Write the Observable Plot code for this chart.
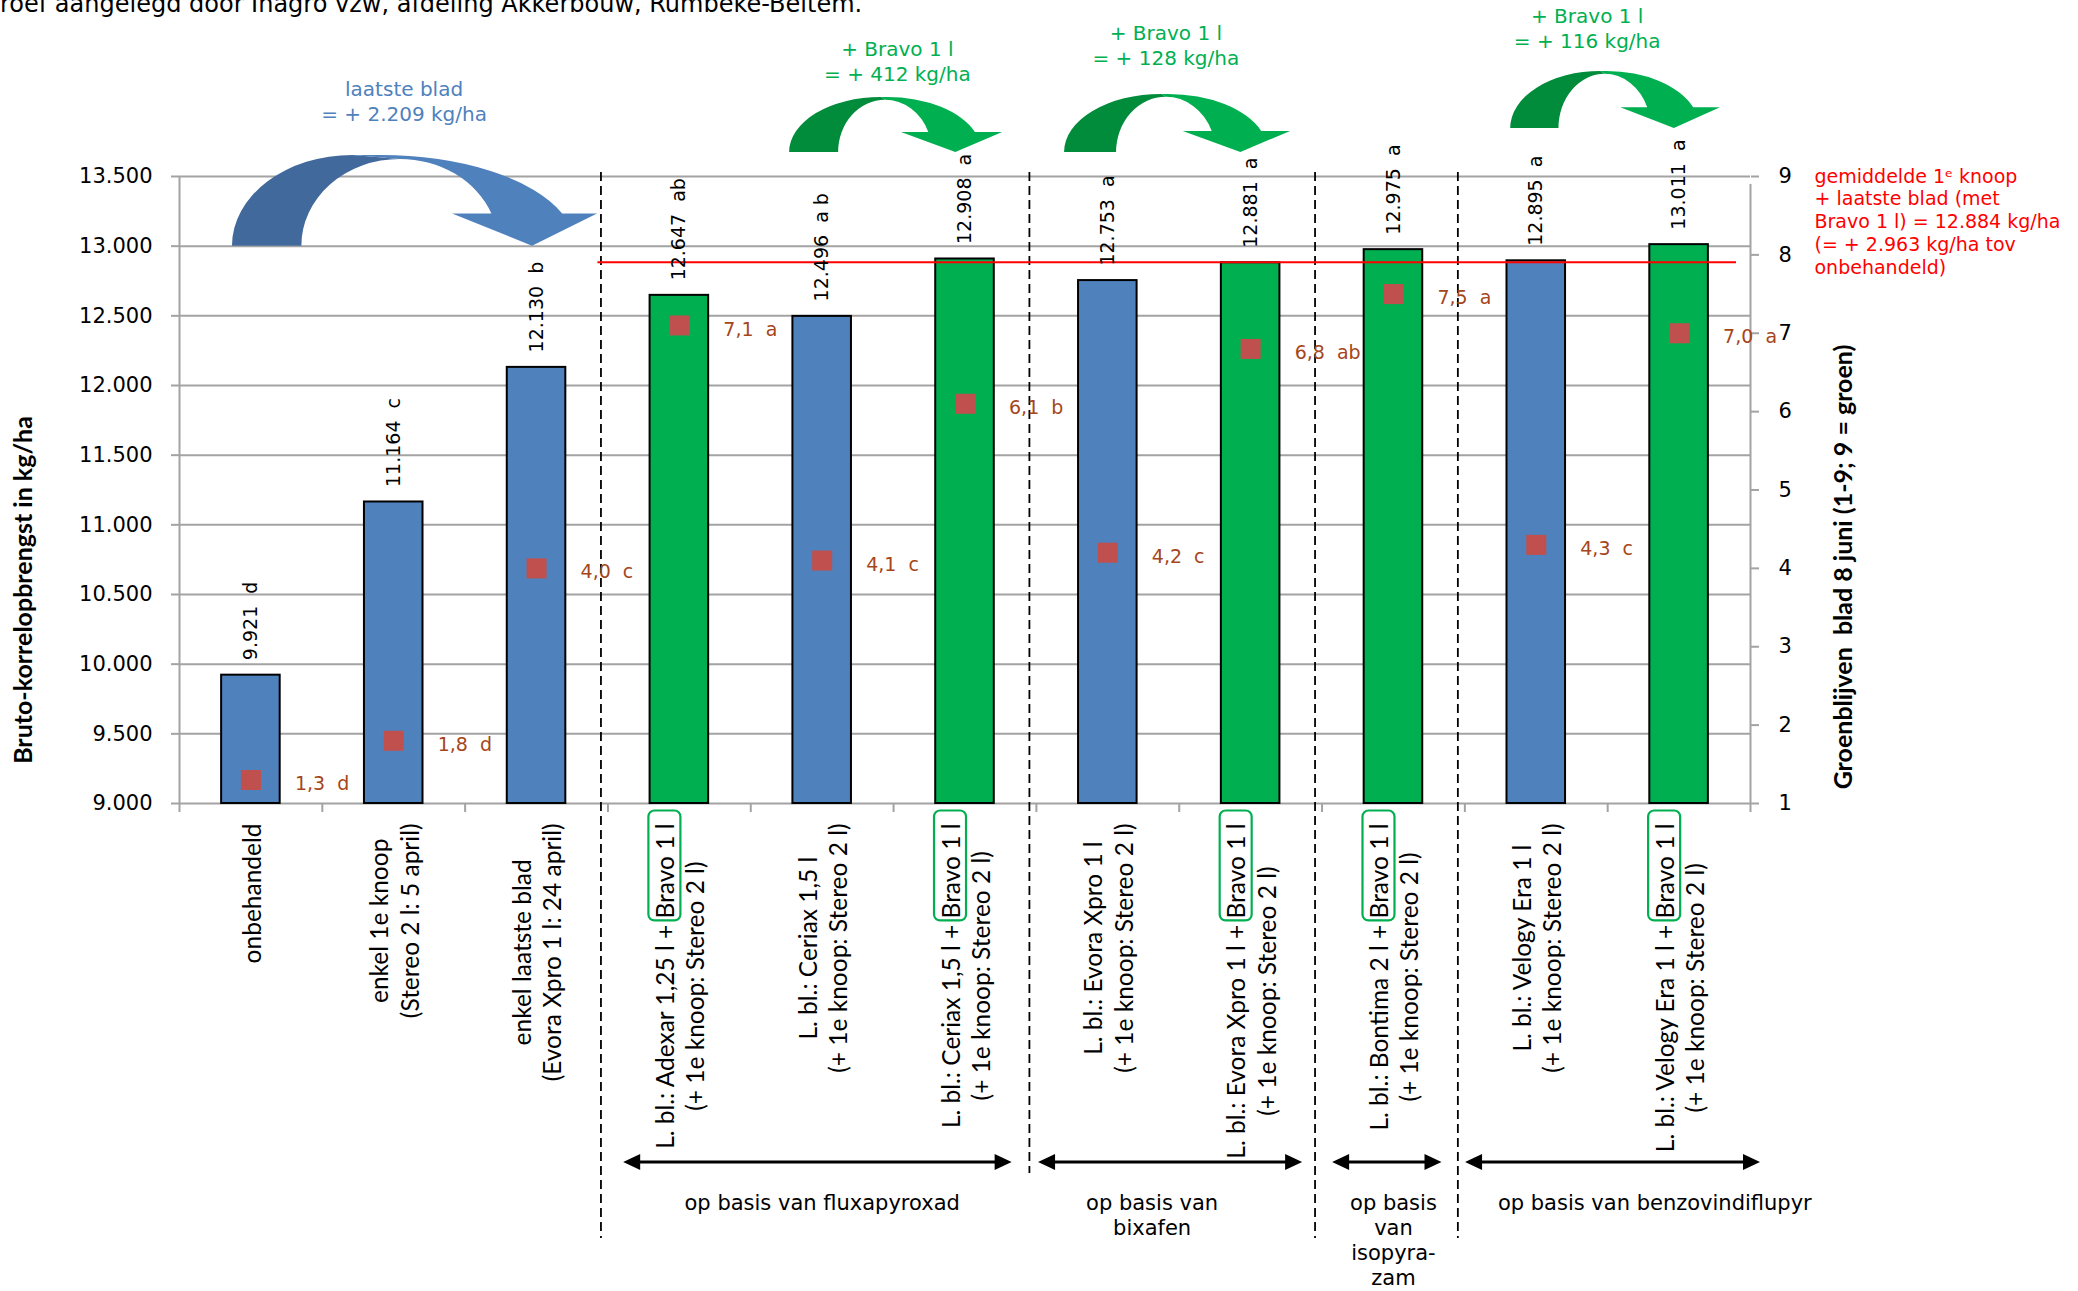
<!DOCTYPE html>
<html><head><meta charset="utf-8">
<script src="https://cdn.jsdelivr.net/npm/d3@7"></script>
<script src="https://cdn.jsdelivr.net/npm/@observablehq/plot@0.6"></script>
<style>
html,body{margin:0;padding:0;background:#fff;}
#wrap{position:relative;width:2078px;height:1291px;overflow:hidden;background:#fff;}
#header{position:absolute;left:0;top:-10px;font-family:"DejaVu Sans";font-size:24px;line-height:28px;white-space:nowrap;color:#000;z-index:2;}
#chart{position:absolute;left:0;top:0;}
</style></head>
<body><div id="wrap"><div id="chart"></div><div id="header">roef aangelegd door Inagro vzw, afdeling Akkerbouw, Rumbeke-Beitem.</div></div>
<script>
// ---------- data ----------
const categories = [
  "onbehandeld",
  "enkel 1e knoop\n(Stereo 2 l: 5 april)",
  "enkel laatste blad\n(Evora Xpro 1 l: 24 april)",
  "L. bl.: Adexar 1,25 l + Bravo 1 l\n(+ 1e knoop: Stereo 2 l)",
  "L. bl.: Ceriax 1,5 l\n(+ 1e knoop: Stereo 2 l)",
  "L. bl.: Ceriax 1,5 l + Bravo 1 l\n(+ 1e knoop: Stereo 2 l)",
  "L. bl.: Evora Xpro 1 l\n(+ 1e knoop: Stereo 2 l)",
  "L. bl.: Evora Xpro 1 l + Bravo 1 l\n(+ 1e knoop: Stereo 2 l)",
  "L. bl.: Bontima 2 l + Bravo 1 l\n(+ 1e knoop: Stereo 2 l)",
  "L. bl.: Velogy Era 1 l\n(+ 1e knoop: Stereo 2 l)",
  "L. bl.: Velogy Era 1 l + Bravo 1 l\n(+ 1e knoop: Stereo 2 l)"
];
const yields = [9921, 11164, 12130, 12647, 12496, 12908, 12753, 12881, 12975, 12895, 13011];
const yieldLetters = ["d", "c", "b", "ab", "a b", "a", "a", "a", "a", "a", "a"];
const greenScores = [1.3, 1.8, 4.0, 7.1, 4.1, 6.1, 4.2, 6.8, 7.5, 4.3, 7.0];
const scoreLetters = ["d", "d", "c", "a", "c", "b", "c", "ab", "a", "c", "a"];
const withBravo = [false, false, false, true, false, true, false, true, true, false, true];
const yTicks = [9000, 9500, 10000, 10500, 11000, 11500, 12000, 12500, 13000, 13500];
const scoreTicks = [1, 2, 3, 4, 5, 6, 7, 8, 9];
const groups = ["op basis van fluxapyroxad", "op basis van\nbixafen", "op basis\nvan\nisopyra-\nzam", "op basis van benzovindiflupyr"];
const groupFirst = [3, 6, 8, 9];
const groupLast = [5, 7, 8, 10];
const gainFrom = [0, 4, 6, 9];
const gainTo = [2, 5, 7, 10];
const gainTitle = ["laatste blad", "+ Bravo 1 l", "+ Bravo 1 l", "+ Bravo 1 l"];

// ---------- layout / style ----------
const BLUE = "#4F81BD", GREEN = "#00B050", GRID = "#A3A3A3";
const fmt = v => d3.format(",")(v).replace(/,/g, ".");
const yMin = 9000, yMax = 13500;
const toY = s => yMin + (s - 1) * (yMax - yMin) / 8;
const idx = d3.range(categories.length);
const bravoIdx = idx.filter(i => withBravo[i]);
const meanBravo = Math.round(d3.mean(bravoIdx, i => yields[i]));
const gIdx = d3.range(groups.length);
const groupShift = [0, -0.19, 0, 0.33];

const plot = Plot.plot({
  width: 2078, height: 1291,
  marginLeft: 179, marginRight: 328, marginTop: 176, marginBottom: 488,
  style: {fontFamily: "DejaVu Sans", fontSize: "20px", background: "transparent", color: "#000", overflow: "visible"},
  x: {type: "linear", domain: [-0.5, 10.5]},
  y: {domain: [yMin, yMax]},
  color: {type: "identity"},
  marks: [
    Plot.ruleY(yTicks, {stroke: GRID, strokeWidth: 2}),
    Plot.axisY({ticks: yTicks, tickFormat: fmt, tickSize: 8, tickPadding: 19, stroke: GRID, strokeWidth: 2, fontSize: 21, label: null}),
    Plot.axisY({anchor: "right", ticks: scoreTicks.map(toY), tickFormat: v => String(Math.round(1 + (v - yMin) * 8 / (yMax - yMin))), tickSize: 8, tickPadding: 20, stroke: GRID, strokeWidth: 2, fontSize: 21, label: null}),
    Plot.axisX({ticks: d3.range(-0.5, 11, 1), tickFormat: () => "", tickSize: 9, stroke: GRID, strokeWidth: 2, label: null}),
    Plot.ruleX([-0.5], {y1: yMin, y2: yMax, stroke: GRID, strokeWidth: 2}),
    Plot.ruleX([10.5], {y1: yMin, y2: yMax, insetBottom: -8, stroke: GRID, strokeWidth: 2}),
    Plot.ruleX([2.5, 7.5, 8.5], {dx: -7, insetTop: -4, insetBottom: -435, stroke: "#000", strokeWidth: 1.8, strokeDasharray: "9,5"}),
    Plot.ruleX([5.5], {dx: -7, insetTop: -4, insetBottom: -370, stroke: "#000", strokeWidth: 1.8, strokeDasharray: "9,5"}),
    Plot.rectY(idx, {x1: i => i - 0.205, x2: i => i + 0.205, y1: yMin, y2: i => yields[i], fill: i => withBravo[i] ? GREEN : BLUE, stroke: "#000", strokeWidth: 2}),
    Plot.ruleY([meanBravo], {x1: 2.5, x2: 10.5, insetLeft: -10, insetRight: 14, stroke: "#FF0000", strokeWidth: 2}),
    Plot.dot(idx, {x: i => i, y: i => toY(greenScores[i]), symbol: "square", r: 11.3, fill: "#C0504D"}),
    Plot.text(idx, {x: i => i, y: i => toY(greenScores[i]), text: i => greenScores[i].toFixed(1).replace(".", ",") + "  " + scoreLetters[i], dx: 44, dy: 4, textAnchor: "start", fill: "#A5461A", fontSize: 19}),
    Plot.text(idx, {x: i => i, y: i => yields[i], text: i => fmt(yields[i]) + "  " + yieldLetters[i], rotate: -90, textAnchor: "start", dy: -15, fontSize: 19, fill: "#000"}),
    Plot.text(idx, {x: i => i, text: i => categories[i], frameAnchor: "bottom", dy: 20, rotate: -90, textAnchor: "end", lineAnchor: "middle", fontFamily: "Lato", fontSize: 24.5, lineHeight: 1.24, fill: "#000"}),
    Plot.text(gIdx, {x: j => (groupFirst[j] + groupLast[j]) / 2 + groupShift[j], text: j => groups[j], frameAnchor: "bottom", dy: 389, lineAnchor: "top", fontSize: 21, lineHeight: 1.19, fill: "#000"}),
    Plot.text(["Bruto-korrelopbrengst in kg/ha"], {frameAnchor: "left", textAnchor: "middle", rotate: -90, dx: -156, dy: 100, fontWeight: "bold", fontFamily: "Lato", fontSize: 25, fill: "#000"}),
    Plot.text(["Groenblijven  blad 8 juni (1-9; 9 = groen)"], {frameAnchor: "right", textAnchor: "middle", rotate: -90, dx: 93, dy: 77, fontWeight: "bold", fontFamily: "Lato", fontSize: 25, fill: "#000"}),
    Plot.text([`gemiddelde 1ᵉ knoop\n+ laatste blad (met\nBravo 1 l) = ${fmt(meanBravo)} kg/ha\n(= + ${fmt(meanBravo - yields[0])} kg/ha tov\nonbehandeld)`], {frameAnchor: "top-right", dx: 64, dy: -10, textAnchor: "start", lineAnchor: "top", fill: "#FF0000", fontSize: 19, lineHeight: 1.2})
  ]
});
document.getElementById("chart").appendChild(plot);

// ---------- annotations drawn with the plot's own scales ----------
const sx = plot.scale("x"), sy = plot.scale("y");
const X = d3.scaleLinear(sx.domain, sx.range);
const Y = d3.scaleLinear(sy.domain, sy.range);
const svg = d3.select(plot);

// centre the two lines of each category label and box the "Bravo 1 l" part
svg.selectAll("text").filter(function () {
  const ts = Array.from(this.querySelectorAll("tspan"));
  return ts.length >= 2 && categories.includes(ts.map(t => t.textContent).join("\n"));
}).each(function () {
  const tspans = Array.from(this.querySelectorAll("tspan"));
  const m = d3.max(tspans, t => t.getComputedTextLength());
  this.setAttribute("text-anchor", "middle");
  tspans.forEach(t => t.setAttribute("x", -m / 2));
  const t1 = tspans[0];
  const sub = "Bravo 1 l";
  const s = t1.textContent.lastIndexOf(sub);
  if (s < 0) return;
  const bb = t1.getBBox();
  const wB = t1.getSubStringLength(s, sub.length);
  const endX = bb.x + bb.width;
  const cy = bb.y + bb.height / 2;
  d3.select(this.parentNode).append("rect")
    .attr("transform", this.getAttribute("transform"))
    .attr("x", endX - wB - 2).attr("width", wB + 15)
    .attr("y", cy - 16).attr("height", 32)
    .attr("rx", 6).attr("fill", "none").attr("stroke", GREEN).attr("stroke-width", 2.2);
});

// curved arrows
const tpls = {
  blue: {dark: "#41699B", light: BLUE, text: BLUE, doTop: 0.33, diBase: 0.19, diTopU: 0.46, diTopV: 0.044, loStart: 0.4055, loRx: 0.534, headV: 0.644, headL: 0.603, tip: 0.822},
  green: {dark: "#008C3A", light: GREEN, text: GREEN, doTop: 0.43, diBase: 0.23, diTopU: 0.45, diTopV: 0.05, loStart: 0.46, loRx: 0.4424, headV: 0.636, headL: 0.525, tip: 0.78}
};
const arrowBox = [
  {L: -0.129, R: 2.427, B: 13000, T: 13651, tpl: "blue", labelX: 1.076, labelY: 14124},
  {L: 3.772, R: 5.264, B: 13672, T: 14067, tpl: "green", labelX: 4.53, labelY: 14412},
  {L: 5.697, R: 7.28, B: 13672, T: 14089, tpl: "green", labelX: 6.41, labelY: 14526},
  {L: 8.821, R: 10.29, B: 13844, T: 14254, tpl: "green", labelX: 9.36, labelY: 14648}
];
const ga = svg.append("g").attr("aria-label", "gain-arrows");
arrowBox.forEach((a, k) => {
  const t = tpls[a.tpl];
  const L = X(a.L), R = X(a.R), T = Y(a.T), B = Y(a.B);
  const W = R - L, H = B - T;
  const px = u => L + u * W, py = v => T + v * H;
  const diRx = t.diTopU - t.diBase, diRy = 1 - t.diTopV;
  const outerPt = t.loStart + t.loRx * Math.sqrt(1 - (1 - t.headV) ** 2);
  const innerPt = t.diTopU + diRx * Math.sqrt(1 - ((1 - t.headV) / diRy) ** 2);
  const dark = `M${px(0)},${py(1)} A${t.doTop * W},${H} 0 0 1 ${px(t.doTop)},${py(0)} L${px(t.diTopU)},${py(t.diTopV)} A${diRx * W},${diRy * H} 0 0 0 ${px(t.diBase)},${py(1)} Z`;
  const light = `M${px(t.doTop)},${py(0)} L${px(t.loStart)},${py(0)} A${t.loRx * W},${H} 0 0 1 ${px(outerPt)},${py(t.headV)} L${px(1)},${py(t.headV)} L${px(t.tip)},${py(1)} L${px(t.headL)},${py(t.headV)} L${px(innerPt)},${py(t.headV)} A${diRx * W},${diRy * H} 0 0 0 ${px(t.diTopU)},${py(t.diTopV)} Z`;
  ga.append("path").attr("d", dark).attr("fill", t.dark);
  ga.append("path").attr("d", light).attr("fill", t.light);
  const gain = yields[gainTo[k]] - yields[gainFrom[k]];
  const txt = ga.append("text").attr("text-anchor", "middle").attr("fill", t.text)
    .attr("font-family", "DejaVu Sans").attr("font-size", 20);
  txt.append("tspan").attr("x", X(a.labelX)).attr("y", Y(a.labelY) + 7).text(gainTitle[k]);
  txt.append("tspan").attr("x", X(a.labelX)).attr("y", Y(a.labelY) + 32).text(`= + ${fmt(gain)} kg/ha`);
});

// double-headed arrows below the groups
const insL = [0.11, 0.015, 0.074, 0.005], insR = [0.17, 0.136, 0.16, -0.07];
const ay = Y(yMin) + 359;
const gb = svg.append("g").attr("aria-label", "group-arrows");
gIdx.forEach(j => {
  const x1 = X(groupFirst[j] - 0.5 + insL[j]), x2 = X(groupLast[j] + 0.5 - insR[j]);
  const hl = 17, hh = 8;
  gb.append("line").attr("x1", x1 + hl - 2).attr("x2", x2 - hl + 2).attr("y1", ay).attr("y2", ay)
    .attr("stroke", "#000").attr("stroke-width", 3);
  gb.append("path").attr("d", `M${x1},${ay} L${x1 + hl},${ay - hh} L${x1 + hl},${ay + hh} Z`).attr("fill", "#000");
  gb.append("path").attr("d", `M${x2},${ay} L${x2 - hl},${ay - hh} L${x2 - hl},${ay + hh} Z`).attr("fill", "#000");
});
</script>
</body></html>
